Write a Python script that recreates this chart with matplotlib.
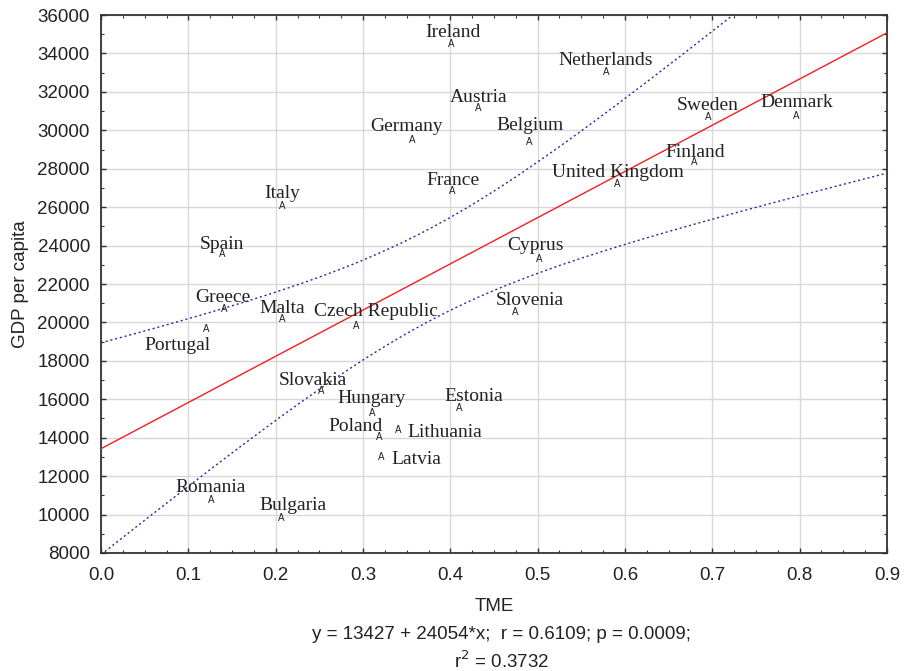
import numpy as np
import matplotlib
matplotlib.use("Agg")
import matplotlib.pyplot as plt
from matplotlib.ticker import MultipleLocator, FormatStrFormatter

# -------------------------------------------------------------------------
# Datos
# -------------------------------------------------------------------------
paises = ["Ireland", "Netherlands", "Austria", "Sweden", "Denmark", "Germany",
          "Belgium", "Finland", "United Kingdom", "France", "Italy", "Spain",
          "Cyprus", "Greece", "Malta", "Portugal", "Czech Republic", "Slovenia",
          "Slovakia", "Hungary", "Estonia", "Poland", "Lithuania", "Latvia",
          "Romania", "Bulgaria"]
tme = [0.401, 0.578, 0.432, 0.695, 0.796, 0.356,
       0.490, 0.679, 0.591, 0.402, 0.208, 0.139,
       0.502, 0.141, 0.208, 0.121, 0.292, 0.474,
       0.252, 0.310, 0.410, 0.319, 0.340, 0.321,
       0.126, 0.206]
pib = [34490, 33030, 31160, 30690, 30740, 29500,
       29390, 28350, 27200, 26840, 26060, 23560,
       23300, 20700, 20180, 19660, 19820, 20550,
       16430, 15290, 15550, 14040, 14400, 13000,
       10760, 9820]

# coeficientes de la regresión reportada
intercepto = 13427
pendiente = 24054
texto_reg = "y = 13427 + 24054*x;  r = 0.6109; p = 0.0009;"
texto_r2 = "r$^2$ = 0.3732"

# desplazamiento de etiquetas (pixeles) respecto al marcador
offsets = {
    "Ireland": (2, 12), "Netherlands": (0, 12), "Austria": (0, 11),
    "Sweden": (0, 12), "Denmark": (1, 14), "Germany": (-5, 13),
    "Belgium": (1, 17), "Finland": (1, 10), "United Kingdom": (1, 12),
    "France": (1, 11), "Italy": (0, 12), "Spain": (0, 10),
    "Cyprus": (-4, 14), "Greece": (-1, 11), "Malta": (0, 10),
    "Portugal": (-29, -17), "Czech Republic": (20, 14), "Slovenia": (15, 11),
    "Slovakia": (-8, 11), "Hungary": (0, 14), "Estonia": (15, 11),
    "Poland": (-24, 10), "Lithuania": (47, -2), "Latvia": (35, -3),
    "Romania": (0, 12), "Bulgaria": (12, 13),
}

# -------------------------------------------------------------------------
# Banda de confianza 95% para la media
# -------------------------------------------------------------------------
x = np.array(tme)
y = np.array(pib)
n = len(x)
resid = y - (intercepto + pendiente * x)
s = np.sqrt(np.sum(resid ** 2) / (n - 2))
sxx = np.sum((x - x.mean()) ** 2)
t_crit = 2.0639  # t(0.975, 24)

xs = np.linspace(0, 0.9, 300)
ys = intercepto + pendiente * xs
se = s * np.sqrt(1 / n + (xs - x.mean()) ** 2 / sxx)

# -------------------------------------------------------------------------
# Plot
# -------------------------------------------------------------------------
plt.rcParams["font.family"] = "Liberation Sans"

fig = plt.figure(figsize=(9.06, 6.71), dpi=100)
ax = fig.add_axes([0.1115, 0.1759, 0.8675, 0.8017])

ax.plot(xs, ys, color="#ee2020", lw=1.0, zorder=3)
ax.plot(xs, ys + t_crit * se, color="#2a2aa0", lw=1.0, ls=(0, (1.5, 2)), zorder=3)
ax.plot(xs, ys - t_crit * se, color="#2a2aa0", lw=1.0, ls=(0, (1.5, 2)), zorder=3)

for nombre, xi, yi in zip(paises, tme, pib):
    ax.text(xi, yi, "A", fontsize=7, ha="center", va="center", color="#222222", zorder=4)
    dx, dy = offsets[nombre]
    ax.annotate(nombre, (xi, yi), xytext=(dx, dy), textcoords="offset pixels",
                ha="center", va="center", fontsize=14,
                family="Liberation Serif", color="#222222", zorder=4)

ax.set_xlim(0, 0.9)
ax.set_ylim(8000, 36000)
ax.xaxis.set_major_locator(MultipleLocator(0.1))
ax.xaxis.set_minor_locator(MultipleLocator(0.025))
ax.yaxis.set_major_locator(MultipleLocator(2000))
ax.yaxis.set_minor_locator(MultipleLocator(1000))
ax.xaxis.set_major_formatter(FormatStrFormatter("%.1f"))
ax.tick_params(which="both", direction="in", top=True, right=True,
               labelsize=13.5, labelcolor="#222222", color="#333333")
ax.tick_params(which="major", length=3.5, width=1.0)
ax.tick_params(which="minor", length=2, width=0.8)
ax.tick_params(axis="x", pad=10)
ax.tick_params(axis="y", pad=8)
ax.grid(True, which="major", color="#d8d8d8", lw=1.0, zorder=0)
ax.set_axisbelow(True)
for sp in ax.spines.values():
    sp.set_color("#333333")
    sp.set_linewidth(1.3)

ax.set_xlabel("TME", fontsize=13.5, labelpad=10, color="#222222")
ax.set_ylabel("GDP per capita", fontsize=13.5, labelpad=6, color="#222222")
fig.text(0.5535, 0.055, texto_reg, ha="center", va="center", fontsize=13.5, color="#222222")
fig.text(0.5535, 0.015, texto_r2, ha="center", va="center", fontsize=13.5, color="#222222")

fig.savefig("out.png", dpi=100)
